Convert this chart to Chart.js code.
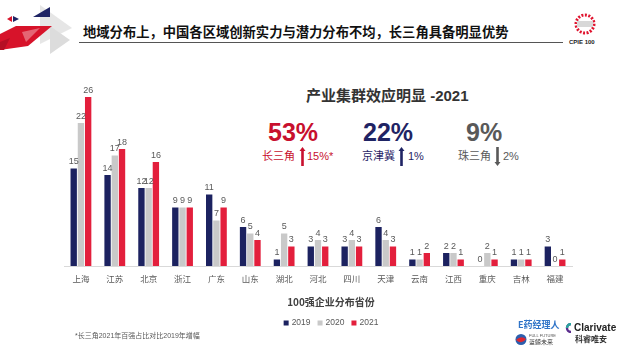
<!DOCTYPE html>
<html>
<head>
<meta charset="utf-8">
<script src="https://cdn.jsdelivr.net/npm/chart.js@4.4.1/dist/chart.umd.min.js"></script>
<style>
  body { margin: 0; width: 622px; height: 350px; background: #fff; position: relative; overflow: hidden;
    font-family: "Liberation Sans", "Noto Sans CJK SC", sans-serif; }
  .abs { position: absolute; white-space: nowrap; line-height: 1; }
  #chartBox { position: absolute; left: 56px; top: 71px; width: 524px; height: 266px; }
</style>
</head>
<body>
<!-- header decoration -->
<svg class="abs" style="left:0;top:0" width="90" height="55">
  <polygon points="40,5 72,28 40,44" fill="#e6e6e6"/>
  <polygon points="50,26 70,40 50,54" fill="#dcdcdc"/>
  <polygon points="33,17 50,7 50,17" fill="#1f2464"/>
  <polygon points="7,19 12,16 12,22" fill="#d9142b"/>
  <polygon points="13,16 19,19 13,22" fill="#1f2464"/>
  <polygon points="0,34 16,26 52,26 28,46 0,50" fill="#d7132a"/>
  <polygon points="22,32 40,28 26,42" fill="#ffffff" opacity="0.35"/>
  <polygon points="0,42 10,38 4,50 0,50" fill="#b50f24"/>
</svg>
<div class="abs" style="left:83px;top:25px;font-size:13.3px;font-weight:bold;color:#111;font-family:'Noto Sans CJK SC'">地域分布上，中国各区域创新实力与潜力分布不均，长三角具备明显优势</div>
<div class="abs" style="left:79px;top:42px;width:484px;height:1px;background:#555"></div>
<svg class="abs" style="left:572px;top:12px" width="28" height="26">
  <circle cx="13" cy="12" r="9" fill="none" stroke="#e0142f" stroke-width="3" stroke-dasharray="2 1.5"/>
  <rect x="5" y="9" width="16" height="6" fill="#d8d8d8"/>
</svg>
<div class="abs" style="left:569px;top:39px;font-size:6px;font-weight:bold;color:#222">CPIE 100</div>

<!-- summary block -->
<div class="abs" style="left:306px;top:88px;font-size:15px;font-weight:bold;color:#333">产业集群效应明显 -2021</div>
<div class="abs" style="left:268px;top:120px;font-size:25px;font-weight:bold;color:#c8102e">53%</div>
<div class="abs" style="left:363px;top:120px;font-size:25px;font-weight:bold;color:#1f2464">22%</div>
<div class="abs" style="left:466px;top:120px;font-size:25px;font-weight:bold;color:#595959">9%</div>

<div class="abs" style="left:262px;top:151px;font-size:11px;color:#c8102e">长三角</div>
<svg class="abs" style="left:299px;top:147px" width="7" height="19"><polygon points="3.5,0 6.5,4 4.8,4 4.8,19 2.2,19 2.2,4 0.5,4" fill="#c8102e"/></svg>
<div class="abs" style="left:307px;top:151px;font-size:11px;color:#c8102e">15%*</div>

<div class="abs" style="left:362px;top:151px;font-size:11px;color:#1f2464">京津冀</div>
<svg class="abs" style="left:398px;top:147px" width="7" height="19"><polygon points="3.5,0 6.5,4 4.8,4 4.8,19 2.2,19 2.2,4 0.5,4" fill="#1f2464"/></svg>
<div class="abs" style="left:408px;top:151px;font-size:11px;color:#1f2464">1%</div>

<div class="abs" style="left:458px;top:151px;font-size:11px;color:#595959">珠三角</div>
<svg class="abs" style="left:494px;top:147px" width="7" height="19"><polygon points="2.2,0 4.8,0 4.8,15 6.5,15 3.5,19 0.5,15 2.2,15" fill="#595959"/></svg>
<div class="abs" style="left:503px;top:151px;font-size:11px;color:#595959">2%</div>

<div id="chartBox"><canvas id="chart"></canvas></div>

<div class="abs" style="left:75px;top:332px;font-size:7px;color:#595959">*长三角2021年百强占比对比2019年增幅</div>

<!-- logos -->
<div class="abs" style="left:518px;top:320px;font-size:9px;font-weight:bold;color:#2f74c8;font-family:'Noto Sans CJK SC'">E药经理人</div>
<svg class="abs" style="left:515px;top:333px" width="12" height="13">
  <circle cx="6" cy="6.5" r="5.5" fill="#2d5fae"/>
  <path d="M1,7 Q6,2 11,6 Q7,12 1,7 Z" fill="#e0262f"/>
</svg>
<div class="abs" style="left:529px;top:334px;font-size:4px;color:#555">FULL FUTURE</div>
<div class="abs" style="left:529px;top:339px;font-size:6px;color:#333;font-family:'Noto Sans CJK SC'">蓝鲸未来</div>
<svg class="abs" style="left:565px;top:323px" width="8" height="10">
  <path d="M6,1 A4,4 0 1,0 6,9" fill="none" stroke="#5b2d8e" stroke-width="2.4"/>
  <path d="M6,1 A4,4 0 0,0 2,5" fill="none" stroke="#2aa5a0" stroke-width="2.4"/>
</svg>
<div class="abs" style="left:574px;top:323px;font-size:10px;font-weight:bold;color:#222">Clarivate</div>
<div class="abs" style="left:575px;top:335px;font-size:8px;font-weight:bold;color:#333;font-family:'Noto Sans CJK SC'">科睿唯安</div>

<script>
const provinces = ["上海", "江苏", "北京", "浙江", "广东", "山东", "湖北", "河北", "四川", "天津", "云南", "江西", "重庆", "吉林", "福建"];
const years = ["2019", "2020", "2021"];
const counts2019 = [15, 14, 12, 9, 11, 6, 1, 3, 3, 6, 1, 2, 0, 1, 3];
const counts2020 = [22, 17, 12, 9, 7, 5, 5, 4, 4, 4, 1, 2, 2, 1, 0];
const counts2021 = [26, 18, 16, 9, 9, 4, 3, 3, 3, 3, 2, 1, 1, 1, 1];
const axisTitle = "100强企业分布省份";
const colors = ["#1c2260", "#c9c9c9", "#e31f3c"];

// value labels above each bar
const barLabels = {
  id: "barLabels",
  afterDatasetsDraw(chart) {
    const ctx = chart.ctx;
    ctx.save();
    ctx.font = "9px 'Liberation Sans'";
    ctx.fillStyle = "#595959";
    ctx.textAlign = "center";
    ctx.textBaseline = "bottom";
    chart.data.datasets.forEach((ds, i) => {
      const meta = chart.getDatasetMeta(i);
      meta.data.forEach((bar, j) => {
        ctx.fillText(String(ds.data[j]), bar.x, bar.y - 2);
      });
    });
    ctx.restore();
  },
};

// axis title + legend, centred a little right of the plot like the slide
const bottomBlock = {
  id: "bottomBlock",
  afterDraw(chart) {
    const ctx = chart.ctx;
    const area = chart.chartArea;
    const cx = (area.left + area.right) / 2 + 13;
    ctx.save();
    ctx.textBaseline = "middle";
    ctx.textAlign = "center";
    ctx.fillStyle = "#404040";
    ctx.font = "bold 10px 'Noto Sans CJK SC'";
    ctx.fillText(axisTitle, cx, area.bottom + 36);

    ctx.font = "8.5px 'Liberation Sans'";
    const items = chart.data.datasets.map((ds) => ({
      text: ds.label,
      color: ds.backgroundColor,
      w: 5 + 3 + ctx.measureText(ds.label).width,
    }));
    const gap = 7;
    const total = items.reduce((s, it) => s + it.w, 0) + gap * (items.length - 1);
    let x = cx - total / 2;
    const y = area.bottom + 57;
    ctx.textAlign = "left";
    items.forEach((it) => {
      ctx.fillStyle = it.color;
      ctx.fillRect(x, y - 2.5, 5, 5);
      ctx.fillStyle = "#595959";
      ctx.fillText(it.text, x + 8, y);
      x += it.w + gap;
    });
    ctx.restore();
  },
};

new Chart(document.getElementById("chart"), {
  type: "bar",
  data: {
    labels: provinces,
    datasets: [
      { label: years[0], data: counts2019, backgroundColor: colors[0] },
      { label: years[1], data: counts2020, backgroundColor: colors[1] },
      { label: years[2], data: counts2021, backgroundColor: colors[2] },
    ],
  },
  options: {
    responsive: true,
    maintainAspectRatio: false,
    animation: false,
    layout: { padding: { left: 8, right: 8, top: 0, bottom: 0 } },
    datasets: { bar: { categoryPercentage: 0.64, barPercentage: 0.88 } },
    plugins: {
      tooltip: { enabled: false },
      legend: { display: false },
    },
    scales: {
      x: {
        grid: { display: false },
        border: { display: true, color: "#d9d9d9" },
        ticks: { color: "#595959", padding: 0, font: { size: 8.5, family: "'Noto Sans CJK SC'" } },
        afterFit: (scale) => { scale.height = 71; },
      },
      y: { display: false, min: 0, max: 30 },
    },
  },
  plugins: [barLabels, bottomBlock],
});
</script>
</body>
</html>
